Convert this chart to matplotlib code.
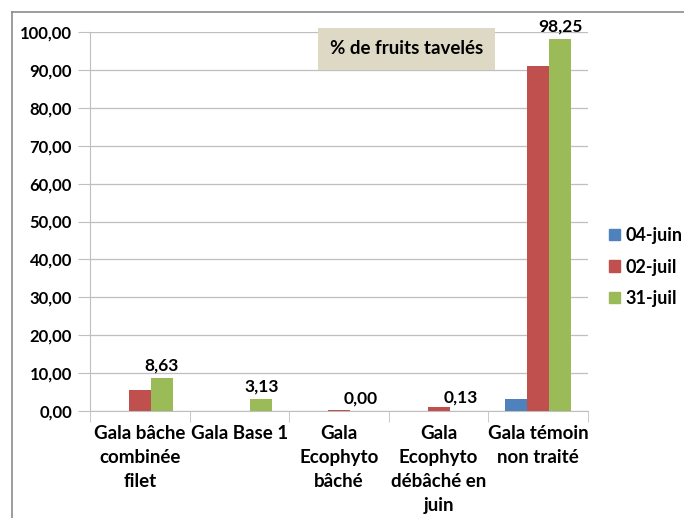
import matplotlib
matplotlib.use("Agg")
import matplotlib.pyplot as plt
import numpy as np
from matplotlib.lines import Line2D

plt.rcParams['font.family'] = ['Lato', 'DejaVu Sans']
plt.rcParams['font.weight'] = 'bold'

categories = ["Gala bâche\ncombinée\nfilet", "Gala Base 1", "Gala\nEcophyto\nbâché",
              "Gala\nEcophyto\ndébâché en\njuin", "Gala témoin\nnon traité"]
series_names = ["04-juin", "02-juil", "31-juil"]
v_0406 = [0.0, 0.0, 0.0, 0.0, 3.2]
v_0207 = [5.5, 0.0, 0.25, 1.0, 91.0]
v_3107 = [8.63, 3.13, 0.00, 0.13, 98.25]
colors = ["#4F81BD", "#C0504D", "#9BBB59"]
yticks = [0, 10, 20, 30, 40, 50, 60, 70, 80, 90, 100]

fig = plt.figure(figsize=(6.84, 5.18), dpi=100)
ax = fig.add_axes([90/684, 1-411/518, (588-90)/684, (411-32)/518])

x = np.arange(len(categories))
w = 0.22
for i, (vals, c, name) in enumerate(zip([v_0406, v_0207, v_3107], colors, series_names)):
    ax.bar(x + (i-1)*w, vals, w, color=c, label=name, zorder=3)

for xi, v in zip(x, v_3107):
    ax.text(xi + w, v + 1.2, f"{v:.2f}".replace('.', ','), ha='center', va='bottom',
            fontsize=12.5, fontweight='bold', zorder=4)

ax.set_xlim(-0.5, len(categories)-0.5)
ax.set_ylim(0, 100)
ax.set_yticks(yticks)
ax.set_yticklabels([f"{t:.2f}".replace('.', ',') for t in yticks], fontsize=12, fontweight='bold')
ax.yaxis.grid(True, color='#BFBFBF', linewidth=0.9, zorder=0)
ax.set_axisbelow(True)
for s in ['top', 'right']:
    ax.spines[s].set_visible(False)
ax.spines['left'].set_color('#BFBFBF')
ax.spines['bottom'].set_color('#BFBFBF')
ax.tick_params(axis='y', length=9, color='#BFBFBF', pad=4)

ax.set_xticks(x)
ax.set_xticklabels(categories, fontsize=13.5, fontweight='bold', linespacing=1.5, va='top')
ax.tick_params(axis='x', length=0, pad=10)
ax.set_xticks(np.arange(-0.5, len(categories)), minor=True)
ax.tick_params(axis='x', which='minor', length=8, color='#BFBFBF')

# title box
fig.text(330/684, 1-49/518, "% de fruits tavelés", fontsize=13.5, fontweight='bold',
         va='center', ha='left',
         bbox=dict(boxstyle='square,pad=0.65', facecolor='#DDD9C4', edgecolor='none'))

handles = [plt.Rectangle((0, 0), 1, 1, color=c) for c in colors]
fig.legend(handles, series_names, loc='center left', bbox_to_anchor=(609/684, 1-267/518),
           frameon=False, borderpad=0, borderaxespad=0, handlelength=0.6, handleheight=0.6,
           handletextpad=0.3, labelspacing=0.8, prop={'weight': 'bold', 'size': 13})

# outer frame (top and left only visible)
fig.add_artist(Line2D([12/684, 1], [1-12/518, 1-12/518], color='#8C8C8C', lw=1.2, transform=fig.transFigure))
fig.add_artist(Line2D([12/684, 12/684], [0, 1-12/518], color='#8C8C8C', lw=1.2, transform=fig.transFigure))

fig.savefig("out.png", dpi=100)
